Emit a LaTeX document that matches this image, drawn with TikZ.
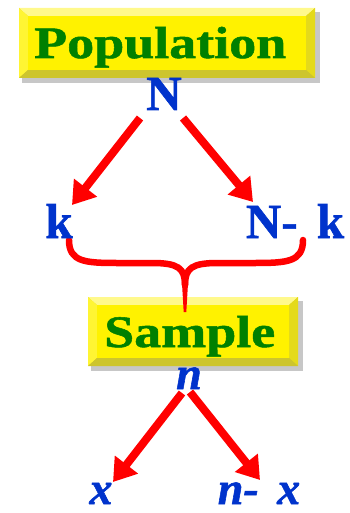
\documentclass[tikz,border=0pt]{standalone}
\usepackage{fontspec}
\setmainfont{Liberation Serif}
\newfontfamily\titlefont[FakeStretch=1.2,FakeBold=1.2]{Liberation Serif}
\newfontfamily\lblfont[FakeBold=1.2]{Liberation Serif}
\usetikzlibrary{arrows.meta}
\definecolor{tblue}{HTML}{0033CC}
\definecolor{tgreen}{HTML}{008000}
\definecolor{tred}{HTML}{FF0000}
\newcommand\bevbox[4]{% x1 y1 x2 y2
  \fill[black,opacity=0.22] (#1+3,#2+4) rectangle (#3+5,#4+5);
  \fill[yellow!80!black] (#1,#2) rectangle (#3,#4);
  \fill[yellow!45!white] (#1,#2) -- (#3,#2) -- (#3-9,#2+8) -- (#1+9,#2+8) -- cycle;
  \fill[yellow!80!white] (#1,#2) -- (#1+9,#2+8) -- (#1+9,#4-8) -- (#1,#4) -- cycle;
  \fill[yellow!88!black] (#3,#2) -- (#3-9,#2+8) -- (#3-9,#4-8) -- (#3,#4) -- cycle;
  \fill[yellow!78!black] (#1,#4) -- (#1+9,#4-8) -- (#3-9,#4-8) -- (#3,#4) -- cycle;
  \fill[yellow] (#1+9,#2+8) rectangle (#3-9,#4-8);
}
\begin{document}
\begin{tikzpicture}[x=1pt,y=-1pt,
  lbl/.style={inner sep=0pt, anchor=base, text=tblue, font=\lblfont\fontsize{49}{49}\selectfont\bfseries},
  ilbl/.style={inner sep=0pt, anchor=base, text=tblue, font=\lblfont\fontsize{46}{46}\selectfont\bfseries\itshape},
  title/.style={inner sep=0pt, anchor=base west, text=tgreen, font=\titlefont\fontsize{45}{45}\selectfont\bfseries},
  arr/.style={draw=tred, line width=8pt, -{Triangle[width=28pt,length=22pt]}},
  brace/.style={draw=tred, line width=6.5pt, line cap=round}
]
\useasboundingbox (0,0) rectangle (350,513);
% boxes
\bevbox{19}{8}{315}{78}
\bevbox{88}{297}{298}{366}
% brace
\coordinate (bl) at (69,240);
\coordinate (br) at (303,240);
\coordinate (bm) at (185,285);
\draw[brace] (bl) .. controls (69,262) and (85,263) .. (118,263) -- (152,263) .. controls (178,263) and (185,268) .. (bm);
\draw[brace] (br) .. controls (303,262) and (287,263) .. (254,263) -- (218,263) .. controls (192,263) and (185,268) .. (bm);
\fill[tred] (181.5,275) -- (188.5,275) -- (186.3,312) -- (183.7,312) -- cycle;
% texts
\node[title] (pop) at (34,58) {Population};
\node[title] (samp) at (104,347) {Sample};
\node[lbl] (N) at (164,110) {N};
\node[lbl] (k) at (59,238) {k};
\node[lbl] (Nk) at (295,238) {N-\hspace{7pt} k};
\node[ilbl] (n) at (189,389) {n};
\node[ilbl] (x) at (101,504) {x};
\node[ilbl] (nx) at (259,504) {n-\hspace{7pt} x};
% arrows
\coordinate (a1s) at (140,118); \coordinate (a1e) at (72,205);
\coordinate (a2s) at (183,118); \coordinate (a2e) at (253,202);
\coordinate (a3s) at (182,393); \coordinate (a3e) at (113,482);
\coordinate (a4s) at (190,392); \coordinate (a4e) at (260,480);
\draw[arr] (a1s) -- (a1e);
\draw[arr] (a2s) -- (a2e);
\draw[arr] (a3s) -- (a3e);
\draw[arr] (a4s) -- (a4e);
\end{tikzpicture}
\end{document}
